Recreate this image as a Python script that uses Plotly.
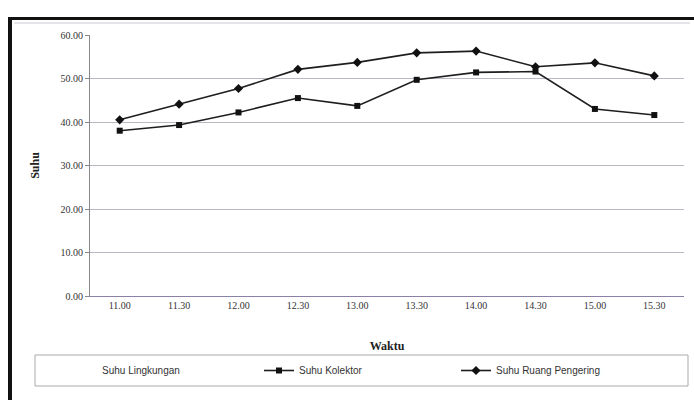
import plotly.graph_objects as go

# Jam pengamatan
waktu = ["11.00", "11.30", "12.00", "12.30", "13.00", "13.30", "14.00", "14.30", "15.00", "15.30"]

# Suhu (°C)
suhu_kolektor = [38.0, 39.3, 42.2, 45.5, 43.7, 49.7, 51.4, 51.6, 43.0, 41.6]
suhu_ruang_pengering = [40.5, 44.1, 47.7, 52.1, 53.7, 55.9, 56.3, 52.7, 53.6, 50.6]

y_ticks = [0, 10, 20, 30, 40, 50, 60]
y_labels = ["0.00", "10.00", "20.00", "30.00", "40.00", "50.00", "60.00"]

W, H = 694, 400
L, R, T, B = 90, 10, 35, 104
PW, PH = W - L - R, H - T - B


def px(x):
    return (x - L) / PW


def py(y):
    return (H - B - y) / PH


fig = go.Figure()

fig.add_trace(go.Scatter(
    x=waktu, y=[None] * len(waktu), name="Suhu Lingkungan",
    mode="lines", line=dict(color="rgba(255,255,255,0)", width=1),
))
fig.add_trace(go.Scatter(
    x=waktu, y=suhu_kolektor, name="Suhu Kolektor",
    mode="lines+markers", line=dict(color="#1e1e1e", width=1.6),
    marker=dict(symbol="square", size=6, color="#111111"),
))
fig.add_trace(go.Scatter(
    x=waktu, y=suhu_ruang_pengering, name="Suhu Ruang Pengering",
    mode="lines+markers", line=dict(color="#1e1e1e", width=1.6),
    marker=dict(symbol="diamond", size=7, color="#111111"),
))

serif = "Liberation Serif, Times New Roman, serif"
sans = "Liberation Sans, Arial, sans-serif"

fig.update_layout(
    width=W, height=H,
    margin=dict(l=L, r=R, t=T, b=B),
    paper_bgcolor="white", plot_bgcolor="white",
    showlegend=True,
    legend=dict(
        orientation="h", x=px(62), y=py(356), xanchor="left", yanchor="top",
        entrywidth=152, entrywidthmode="pixels",
        font=dict(family=sans, size=10, color="#333333"),
        bgcolor="rgba(0,0,0,0)", itemclick=False,
    ),
    xaxis=dict(
        type="category", range=[-0.5, len(waktu) - 0.5],
        showgrid=False, showline=True, linecolor="#8a80a8", linewidth=1,
        ticks="", tickfont=dict(family=serif, size=10, color="#333333"),
        title=dict(text="<b>Waktu</b>", font=dict(family=serif, size=12, color="#222222"), standoff=31),
    ),
    yaxis=dict(
        range=[0, 60], tickvals=y_ticks, ticktext=y_labels,
        showgrid=True, gridcolor="#b8b8c4", gridwidth=1,
        showline=True, linecolor="#888888", linewidth=1,
        ticks="outside", ticklen=4, tickcolor="#888888",
        tickfont=dict(family=serif, size=10, color="#333333"),
        title=dict(text="<b>Suhu</b>", font=dict(family=serif, size=12, color="#222222"), standoff=18),
        zeroline=False,
    ),
    shapes=[
        # bingkai luar grafik
        dict(type="line", xref="paper", yref="paper", x0=px(10), x1=px(10), y0=py(17), y1=py(400),
             line=dict(color="#111111", width=4)),
        dict(type="line", xref="paper", yref="paper", x0=px(8), x1=px(694), y0=py(18.5), y1=py(18.5),
             line=dict(color="#111111", width=3)),
        dict(type="line", xref="paper", yref="paper", x0=px(14), x1=px(690), y0=py(23), y1=py(23),
             line=dict(color="#c8c8d8", width=1)),
        # kotak legenda
        dict(type="rect", xref="paper", yref="paper", x0=px(35), x1=px(688), y0=py(355), y1=py(386),
             line=dict(color="#aaaaaa", width=1), fillcolor="rgba(0,0,0,0)"),
    ],
)

fig.write_html("out.html")
